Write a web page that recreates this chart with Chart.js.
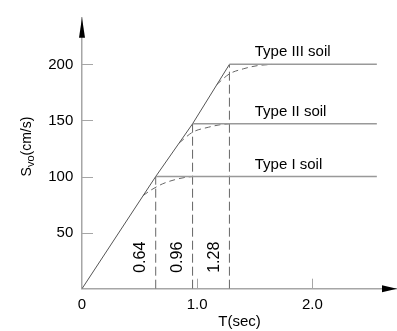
<!DOCTYPE html>
<html>
<head>
<meta charset="utf-8">
<script src="https://cdn.jsdelivr.net/npm/chart.js@4.4.0/dist/chart.umd.min.js"></script>
<style>
  html, body { margin: 0; padding: 0; background: #fff; }
  #wrap { width: 397px; height: 331px; position: relative; }
</style>
</head>
<body>
<div id="wrap"><canvas id="spectrumChart"></canvas></div>
<script>
// corner period T (sec) and plateau Svo (cm/s) of each soil type
const soilNames = ['Type I soil', 'Type II soil', 'Type III soil'];
const cornerPeriods = [0.64, 0.96, 1.28];
const plateauValues = [100, 147, 200];
const plateauEnd = 2.56;

// rising branch through the corners
const risingT = [0, 0.64, 0.96, 1.28];
const risingV = [0, 100, 147, 200];

// smoothed (dashed) transitions into each plateau
const curveIT = [0.53, 0.60, 0.70, 0.80, 0.90, 0.96];
const curveIV = [83, 88, 93.5, 97, 99.3, 100];
const curveIIT = [0.845, 0.96, 1.10, 1.20, 1.28];
const curveIIV = [130, 139.5, 144, 146.2, 147];
const curveIIIT = [1.17, 1.28, 1.40, 1.52, 1.65];
const curveIIIV = [182, 191.5, 196, 198.8, 200];

const xTicks = [0, 1, 2];
const yTicks = [50, 100, 150, 200];

const FONT = '"Liberation Sans", Arial, sans-serif';
const axisGray = '#a6a6a6';
const textColor = '#000';

function pts(ts, vs) {
  return ts.map((t, i) => ({x: t, y: vs[i]}));
}

const datasets = [];

// plateaus
plateauValues.forEach((v, i) => {
  datasets.push({
    data: [{x: cornerPeriods[i], y: v}, {x: plateauEnd, y: v}],
    borderColor: '#999',
    borderWidth: 1.5
  });
});

// rising line
datasets.push({
  data: pts(risingT, risingV),
  borderColor: '#555',
  borderWidth: 1
});

// dashed verticals at the corner periods
cornerPeriods.forEach((t, i) => {
  datasets.push({
    data: [{x: t, y: 0}, {x: t, y: plateauValues[i]}],
    borderColor: '#666',
    borderWidth: 1,
    borderDash: [9, 4]
  });
});

// dashed transition curves
[[curveIT, curveIV], [curveIIT, curveIIV], [curveIIIT, curveIIIV]].forEach(c => {
  datasets.push({
    data: pts(c[0], c[1]),
    borderColor: '#666',
    borderWidth: 1,
    borderDash: [6, 4],
    cubicInterpolationMode: 'monotone'
  });
});

const decorPlugin = {
  id: 'decor',
  afterDraw(chart) {
    const ctx = chart.ctx;
    const xs = chart.scales.x, ys = chart.scales.y;
    const area = chart.chartArea;
    const x0 = xs.getPixelForValue(0);
    const y0 = ys.getPixelForValue(0);
    ctx.save();

    // tick marks pointing into the plot
    ctx.strokeStyle = axisGray;
    ctx.lineWidth = 1;
    ctx.beginPath();
    yTicks.forEach(v => {
      const y = Math.round(ys.getPixelForValue(v)) + 0.5;
      ctx.moveTo(x0, y);
      ctx.lineTo(x0 + 11, y);
    });
    xTicks.filter(v => v > 0).forEach(v => {
      const x = Math.round(xs.getPixelForValue(v)) + 0.5;
      ctx.moveTo(x, y0);
      ctx.lineTo(x, y0 - 10);
    });
    ctx.stroke();

    // arrow heads
    ctx.fillStyle = '#000';
    ctx.beginPath();
    ctx.moveTo(x0, area.top);
    ctx.lineTo(x0 - 3, area.top + 20);
    ctx.lineTo(x0 + 3, area.top + 20);
    ctx.closePath();
    ctx.fill();
    ctx.beginPath();
    ctx.moveTo(area.right, y0);
    ctx.lineTo(area.right - 15, y0 - 3.5);
    ctx.lineTo(area.right - 15, y0 + 3.5);
    ctx.closePath();
    ctx.fill();

    // corner period labels, written upward beside each dashed line
    ctx.fillStyle = textColor;
    ctx.font = '16px ' + FONT;
    ctx.textAlign = 'center';
    ctx.textBaseline = 'middle';
    cornerPeriods.forEach(t => {
      ctx.save();
      ctx.translate(xs.getPixelForValue(t) - 15, ys.getPixelForValue(28));
      ctx.rotate(-Math.PI / 2);
      ctx.fillText(t.toFixed(2), 0, 0);
      ctx.restore();
    });

    // soil type names above each plateau
    ctx.font = '15px ' + FONT;
    ctx.textAlign = 'left';
    ctx.textBaseline = 'alphabetic';
    soilNames.forEach((name, i) => {
      ctx.fillText(name, xs.getPixelForValue(1.5), ys.getPixelForValue(plateauValues[i]) - 8);
    });

    // y axis title with subscript
    const big = '14px ' + FONT, small = '11px ' + FONT;
    ctx.font = big;
    const wS = ctx.measureText('S').width;
    const wRest = ctx.measureText('(cm/s)').width;
    ctx.font = small;
    const wSub = ctx.measureText('vo').width;
    const total = wS + wSub + wRest;
    ctx.save();
    ctx.translate(31, 146.5);
    ctx.rotate(-Math.PI / 2);
    let cx = -total / 2;
    ctx.font = big;
    ctx.fillText('S', cx, 0);
    cx += wS;
    ctx.font = small;
    ctx.fillText('vo', cx, 2.5);
    cx += wSub;
    ctx.font = big;
    ctx.fillText('(cm/s)', cx, 0);
    ctx.restore();

    ctx.restore();
  }
};

new Chart(document.getElementById('spectrumChart'), {
  type: 'line',
  data: {datasets: datasets},
  options: {
    responsive: true,
    maintainAspectRatio: false,
    animation: false,
    layout: {padding: {top: 10, left: 0, right: 0, bottom: 0}},
    elements: {point: {radius: 0, hoverRadius: 0}, line: {tension: 0, fill: false}},
    plugins: {legend: {display: false}, tooltip: {enabled: false}},
    scales: {
      x: {
        type: 'linear',
        min: 0,
        max: 2.735,
        afterBuildTicks: s => { s.ticks = xTicks.map(v => ({value: v})); },
        afterFit: s => { s.height = 42.3; },
        grid: {display: false, drawTicks: false},
        border: {display: true, color: axisGray, width: 1.5},
        ticks: {
          padding: 7,
          color: textColor,
          autoSkip: false,
          maxRotation: 0,
          font: {family: FONT, size: 15},
          callback: v => v === 0 ? '0' : v.toFixed(1)
        },
        title: {
          display: true,
          text: 'T(sec)',
          color: textColor,
          font: {family: FONT, size: 15},
          padding: {top: 0, bottom: 0}
        }
      },
      y: {
        type: 'linear',
        min: 0,
        max: 241.6,
        afterBuildTicks: s => { s.ticks = yTicks.map(v => ({value: v})); },
        afterFit: s => { s.width = 82; },
        grid: {display: false, drawTicks: false},
        border: {display: true, color: axisGray, width: 1.5},
        ticks: {
          padding: 8.7,
          color: textColor,
          font: {family: FONT, size: 15}
        }
      }
    }
  },
  plugins: [decorPlugin]
});
</script>
</body>
</html>
